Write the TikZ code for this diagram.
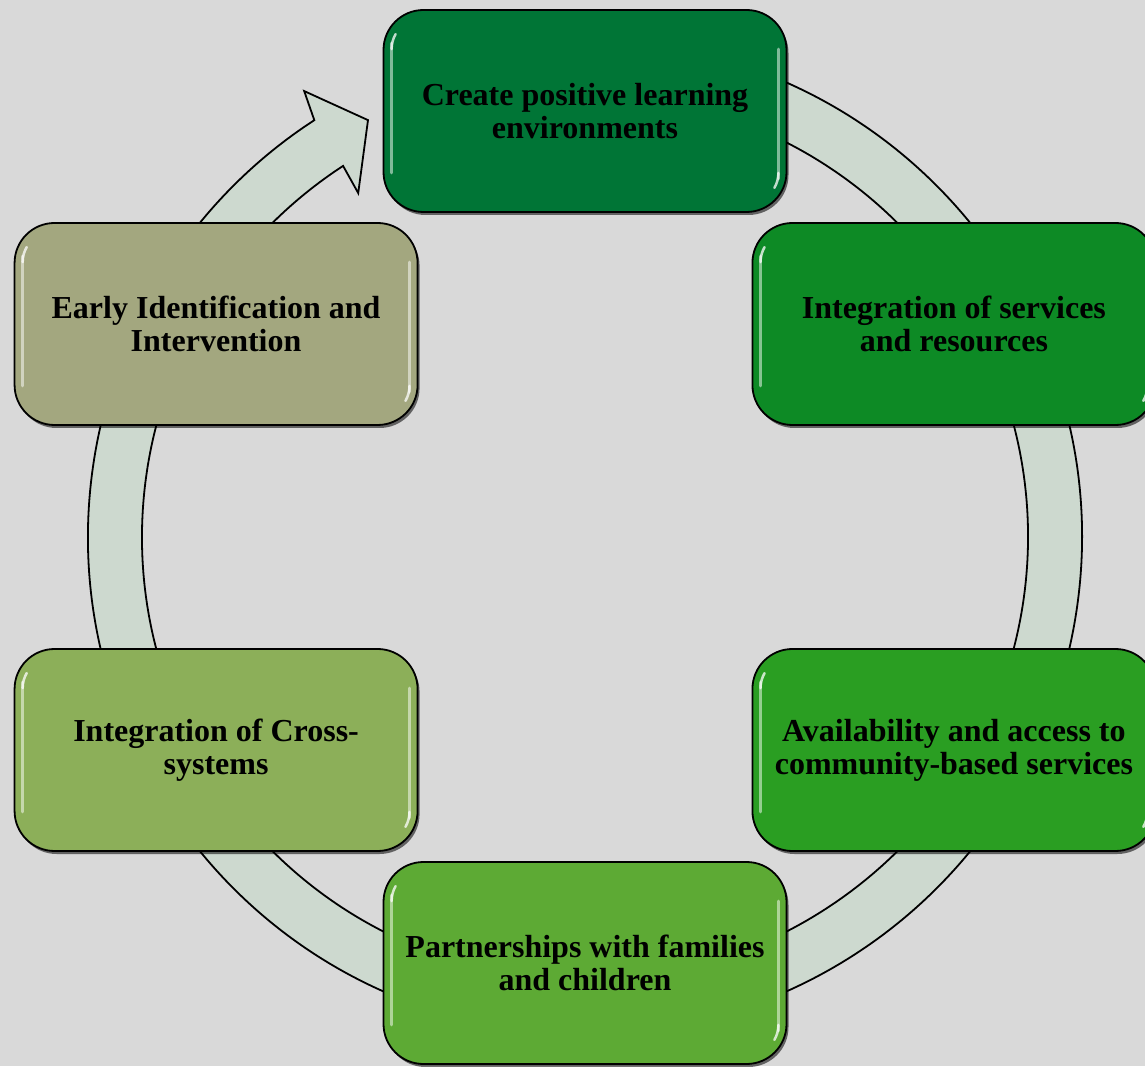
\documentclass[tikz,border=0pt]{standalone}
\usepackage{fontspec}
\setmainfont{Liberation Serif}
\usetikzlibrary{shadows,calc}
\definecolor{bg}{HTML}{D9D9D9}
\definecolor{ringfill}{HTML}{CDD9CF}
\definecolor{cA}{HTML}{007536}
\definecolor{cB}{HTML}{0D8A25}
\definecolor{cC}{HTML}{2A9E22}
\definecolor{cD}{HTML}{5DAA34}
\definecolor{cE}{HTML}{8CAF59}
\definecolor{cF}{HTML}{A3A77F}
\tikzset{
  stepbox/.style={draw=black, line width=1.8pt, rounded corners=40pt,
    minimum width=403pt, minimum height=202pt, inner sep=0pt,
    align=center, font=\fontsize{32}{33}\selectfont\bfseries,
    drop shadow={shadow xshift=2pt, shadow yshift=-3pt, opacity=0.55, fill=black}},
  gloss/.style={white, line width=3pt, opacity=0.5, line cap=round},
  ringstyle/.style={fill=ringfill, draw=black, line width=1.8pt, line join=miter}
}
\newcommand{\glossy}[1]{%
  \draw[gloss] ($(#1.north west)+(9,-34)$) -- ($(#1.south west)+(9,40)$);
  \draw[gloss] ($(#1.north east)+(-9,-40)$) -- ($(#1.south east)+(-9,34)$);
  \draw[gloss, opacity=0.75, line width=2.5pt] ($(#1.north west)+(9,-40)$) arc[start angle=180, end angle=150, radius=30];
  \draw[gloss, opacity=0.75, line width=2.5pt] ($(#1.south east)+(-9,40)$) arc[start angle=0, end angle=-30, radius=30];
}
\begin{document}
\begin{tikzpicture}[x=1pt,y=1pt]
\useasboundingbox (0,0) rectangle (1145,1066);
\clip (0,0) rectangle (1145,1066);
\fill[bg] (0,0) rectangle (1145,1066);
\coordinate (c) at (585,529);
% ring with arrow head
\draw[ringstyle] ($(c)+(80:497)$) arc[start angle=80, end angle=-237, radius=497]
  -- ($(c)+(-237.8:527)$) -- ($(c)+(-242.5:470)$) -- ($(c)+(-236.6:412)$)
  -- ($(c)+(-236.9:443)$) arc[start angle=-236.9, end angle=80, radius=443] -- cycle;
% boxes
\node[stepbox, fill=cA] (b1) at ($(c)+(90:426)$) {Create positive learning\\environments};
\node[stepbox, fill=cB] (b2) at ($(c)+(30:426)$) {Integration of services\\and resources};
\node[stepbox, fill=cC] (b3) at ($(c)+(-30:426)$) {Availability and access to\\community-based services};
\node[stepbox, fill=cD] (b4) at ($(c)+(-90:426)$) {Partnerships with families\\and children};
\node[stepbox, fill=cE] (b5) at ($(c)+(-150:426)$) {Integration of Cross-\\systems};
\node[stepbox, fill=cF] (b6) at ($(c)+(150:426)$) {Early Identification and\\Intervention};
\glossy{b1}\glossy{b2}\glossy{b3}\glossy{b4}\glossy{b5}\glossy{b6}
\end{tikzpicture}
\end{document}
